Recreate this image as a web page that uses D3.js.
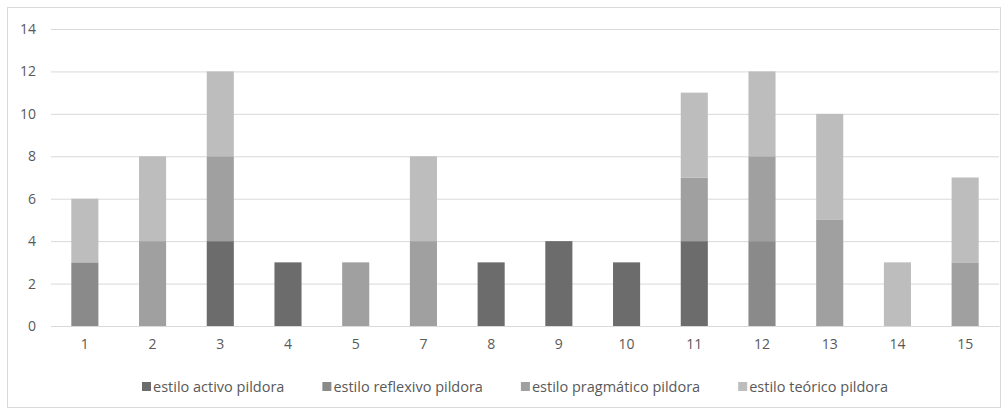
<!DOCTYPE html>
<html>
<head>
<meta charset="utf-8">
<script src="https://cdn.jsdelivr.net/npm/d3@7"></script>
<style>
  body { margin: 0; background: #fff; }
  text { font-family: "Open Sans", "Noto Sans", sans-serif; fill: #595959; }
</style>
</head>
<body>
<div id="chart"></div>
<script>
const categories = ["1", "2", "3", "4", "5", "7", "8", "9", "10", "11", "12", "13", "14", "15"];
const seriesNames = ["estilo activo pildora", "estilo reflexivo pildora", "estilo pragmático pildora", "estilo teórico pildora"];
const activo     = [0, 0, 4, 3, 0, 0, 3, 4, 3, 4, 0, 0, 0, 0];
const reflexivo  = [3, 0, 0, 0, 0, 0, 0, 0, 0, 0, 4, 0, 0, 0];
const pragmatico = [0, 4, 4, 0, 3, 4, 0, 0, 0, 3, 4, 5, 0, 3];
const teorico    = [3, 4, 4, 0, 0, 4, 0, 0, 0, 4, 4, 5, 3, 4];
const yTicks = [0, 2, 4, 6, 8, 10, 12, 14];
const colors = ["#6c6c6c", "#8a8a8a", "#a0a0a0", "#bdbdbd"];

const width = 1008, height = 410;
const margin = { top: 29, right: 9, bottom: 84, left: 51 };

const svg = d3.select("#chart").append("svg")
  .attr("width", width)
  .attr("height", height);

// outer chart border
svg.append("rect")
  .attr("x", 7.5).attr("y", 7.5)
  .attr("width", 993).attr("height", 400)
  .attr("fill", "none")
  .attr("stroke", "#d9d9d9");

const chartWidth = width - margin.left - margin.right;
const chartHeight = height - margin.top - margin.bottom;

const g = svg.append("g")
  .attr("transform", `translate(${margin.left}, ${margin.top})`);

const xScale = d3.scaleBand()
  .domain(categories)
  .range([0, chartWidth])
  .paddingInner(0.6)
  .paddingOuter(0.3);

const yScale = d3.scaleLinear()
  .domain([0, 14])
  .range([chartHeight, 0]);

// gridlines + y labels
const yAxis = d3.axisLeft(yScale)
  .tickValues(yTicks)
  .tickSize(-chartWidth)
  .tickPadding(15);

g.append("g")
  .call(yAxis)
  .call(s => s.select(".domain").remove())
  .call(s => s.selectAll("line").attr("stroke", "#d9d9d9"))
  .call(s => s.selectAll("text").attr("font-size", 14).attr("fill", "#595959"));

// stacked bars
const table = categories.map((c, i) => ({
  cat: c, a: activo[i], r: reflexivo[i], p: pragmatico[i], t: teorico[i]
}));
const stack = d3.stack().keys(["a", "r", "p", "t"]);
const layers = stack(table);

g.selectAll("g.layer")
  .data(layers)
  .enter()
  .append("g")
  .attr("class", "layer")
  .attr("fill", (d, i) => colors[i])
  .selectAll("rect")
  .data(d => d.filter(v => v[1] > v[0]))
  .enter()
  .append("rect")
  .attr("x", d => xScale(d.data.cat))
  .attr("y", d => yScale(d[1]))
  .attr("width", xScale.bandwidth())
  .attr("height", d => yScale(d[0]) - yScale(d[1]));

// x axis
const xAxis = d3.axisBottom(xScale).tickSize(0).tickPadding(13);
g.append("g")
  .attr("transform", `translate(0, ${chartHeight})`)
  .call(xAxis)
  .call(s => s.select(".domain").attr("stroke", "#d9d9d9"))
  .call(s => s.selectAll("text").attr("font-size", 14).attr("fill", "#595959"));

// legend
const legend = svg.append("g");
const items = legend.selectAll("g")
  .data(seriesNames)
  .enter()
  .append("g");
items.append("rect")
  .attr("width", 9).attr("height", 9)
  .attr("y", -10)
  .attr("fill", (d, i) => colors[i]);
items.append("text")
  .attr("x", 11)
  .attr("font-size", 14.5)
  .text(d => d);

let xPos = 0;
items.each(function () {
  const w = 11 + this.querySelector("text").getComputedTextLength();
  d3.select(this).attr("transform", `translate(${xPos}, 0)`);
  xPos += w + 38;
});
legend.attr("transform", "translate(142, 392)");
</script>
</body>
</html>
